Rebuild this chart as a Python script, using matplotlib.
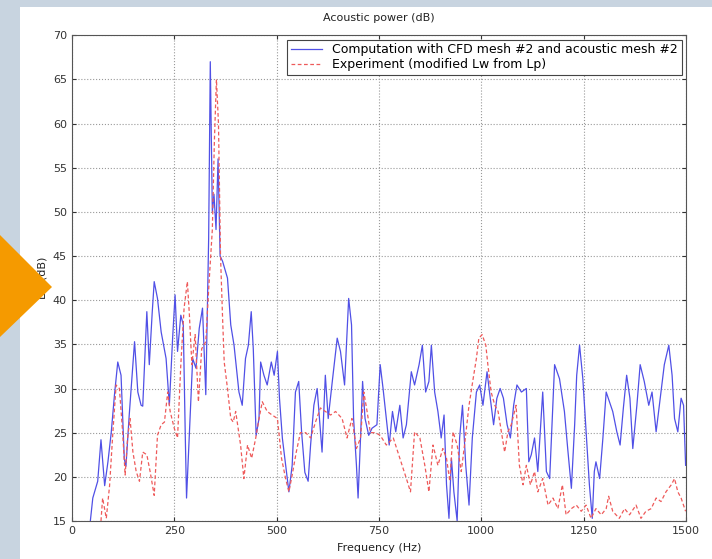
import matplotlib
matplotlib.use('Agg')
import matplotlib.pyplot as plt
from matplotlib.patches import Rectangle, Polygon

# Computation with CFD mesh #2 and acoustic mesh #2
freq_cfd = [45, 51, 63, 71, 80, 88, 96, 104, 112, 120, 128, 132, 140, 153, 161, 169, 173, 183, 189, 196,
            201, 209, 218, 230, 238, 246, 252, 258, 266, 272, 277, 280, 287, 295, 303, 311, 319, 327, 334, 338,
            343, 347, 352, 357, 362, 368, 380, 388, 396, 408, 416, 424, 431, 438, 443, 450, 457, 461, 469, 477,
            487, 494, 502, 507, 514, 522, 530, 538, 546, 554, 561, 569, 577, 583, 591, 599, 607, 611, 619, 626,
            636, 648, 656, 666, 676, 683, 688, 695, 699, 705, 710, 716, 725, 733, 745, 753, 760, 768, 775, 783,
            791, 801, 809, 817, 829, 837, 848, 856, 864, 872, 878, 886, 894, 902, 909, 915, 921, 927, 933, 941,
            947, 954, 962, 970, 978, 988, 996, 1004, 1014, 1020, 1030, 1038, 1046, 1054, 1063, 1071, 1079, 1087,
            1098, 1110, 1116, 1122, 1130, 1138, 1150, 1159, 1167, 1179, 1191, 1203, 1211, 1220, 1228, 1233, 1240,
            1248, 1256, 1264, 1271, 1276, 1280, 1289, 1297, 1305, 1313, 1321, 1331, 1339, 1347, 1355, 1363, 1370,
            1380, 1388, 1398, 1409, 1417, 1427, 1437, 1447, 1458, 1466, 1472, 1480, 1488, 1494, 1499]
level_cfd = [15, 17.6, 19.5, 24.2, 19, 21.7, 25, 29.3, 33, 31.5, 22, 21.2, 27, 35.3, 29.6, 28.1, 28, 38.7, 32.7, 38.5,
             42.1, 40.2, 36.4, 33.4, 28.1, 35.7, 40.6, 34.2, 38.3, 37.2, 24.4, 17.6, 25.1, 33.4, 32.3, 36.8, 39.1, 29.3, 47, 67,
             50, 52, 48, 56, 45, 44.4, 42.5, 37.2, 34.9, 29.6, 28.1, 33.4, 34.9, 38.7, 34.5, 24.7, 26.6, 33, 31.5, 30.4,
             33, 31.5, 34.2, 28.9, 24.4, 21.3, 18.3, 21.3, 29.6, 30.8, 25.1, 20.5, 19.5, 23.6, 28.1, 30, 25.1, 22.8, 31.5, 26.6,
             30.8, 35.7, 34.2, 30.4, 40.2, 37.2, 26.6, 21.3, 17.6, 24.4, 30.8, 26.6, 24.7, 25.5, 25.9, 32.7, 30, 26.6, 23.6, 27.4,
             25.1, 28.1, 24.4, 25.9, 31.9, 30.4, 32.7, 34.9, 29.6, 30.8, 34.9, 29.6, 27.4, 24.4, 27, 19.1, 15.3, 22.1, 18.3, 15,
             24.4, 28.1, 21.3, 16.8, 24.4, 29.6, 30.4, 28.1, 31.9, 29.6, 25.9, 28.9, 30, 28.9, 25.9, 24.4, 28.1, 30.4,
             29.6, 30, 21.7, 22.5, 24.4, 20.6, 29.6, 20.6, 19.8, 32.7, 31.1, 27.4, 23.2, 18.7, 25.9, 31.5, 34.9,
             31.1, 25.1, 19.1, 15.3, 20.6, 21.7, 19.8, 24.4, 29.6, 28.5, 27.4, 25.1, 23.6, 27.8, 31.5, 28.9, 23.2,
             28.1, 32.7, 30.8, 28.1, 29.6, 25.1, 28.9, 32.7, 34.9, 31.5, 26.6, 25.1, 28.9, 28.1, 21.3]

# Experiment (modified Lw from Lp)
freq_exp = [71, 75, 84, 92, 100, 108, 116, 124, 130, 136, 142, 149, 157, 165, 173, 183, 191, 201, 209, 218,
            226, 234, 240, 250, 258, 266, 274, 282, 287, 293, 301, 309, 317, 327, 335, 343, 348, 353, 358, 363,
            368, 372, 380, 388, 394, 400, 412, 420, 429, 439, 449, 457, 465, 477, 489, 502, 512, 522, 530, 538,
            548, 558, 571, 583, 595, 607, 619, 632, 644, 660, 672, 684, 695, 705, 713, 721, 729, 741, 753, 768,
            785, 801, 817, 827, 837, 850, 862, 872, 882, 894, 906, 915, 923, 931, 941, 951, 959, 970, 980, 988,
            994, 1002, 1011, 1016, 1024, 1033, 1041, 1049, 1057, 1065, 1073, 1085, 1093, 1102, 1110, 1120, 1130,
            1138, 1150, 1163, 1175, 1187, 1198, 1207, 1220, 1232, 1244, 1256, 1268, 1280, 1293, 1305, 1311, 1321,
            1337, 1350, 1362, 1378, 1390, 1402, 1415, 1427, 1439, 1451, 1464, 1472, 1480, 1488, 1499]
level_exp = [15, 17.6, 15.3, 19, 25, 30.4, 30, 25, 20.2, 24.4, 26.6, 22.8, 20.6, 19.5, 22.8, 22.5, 20.6, 17.9, 24.7, 25.9,
             26.2, 29.6, 27.4, 25.5, 24.4, 32.7, 39.1, 42.1, 38.3, 32.7, 36.1, 28.5, 34.5, 35.3, 42, 48, 58, 65, 60, 45,
             38, 33, 30, 26.6, 26.2, 27.4, 23.6, 19.8, 23.6, 22.1, 24.4, 26.6, 28.5, 27.4, 27, 26.6, 22.1, 19.8, 18.3, 20.2,
             22.8, 25, 25, 24.4, 26.2, 27.8, 27.4, 27, 27.4, 26.6, 24.4, 26.6, 23.2, 24.4, 29.6, 27.4, 25, 25, 24.7, 23.6,
             24.4, 22.1, 19.8, 18.3, 25.1, 24.4, 21.3, 18.3, 23.6, 21.3, 23.2, 22.1, 19.5, 25.1, 23.6, 20.6, 23.6, 28.1, 31.1, 33.4,
             35.7, 36.1, 34.9, 32.7, 29.6, 28.1, 27.4, 25.1, 22.8, 25.1, 25.9, 28.1, 21.3, 19.1, 21.3, 19.1, 20.6,
             18.3, 19.8, 16.8, 17.6, 16.4, 19.1, 15.7, 16.4, 16.8, 16.1, 16.8, 15.3, 16.4, 15.7, 16.4, 17.8, 16.1,
             15.3, 16.4, 15.7, 16.8, 15.3, 16.1, 16.4, 17.6, 17.2, 18.3, 19.1, 19.8, 18.3, 17.6, 16.1]

x_ticks = [0, 250, 500, 750, 1000, 1250, 1500]
y_ticks = [15, 20, 25, 30, 35, 40, 45, 50, 55, 60, 65, 70]

fig = plt.figure(figsize=(7.12, 5.59), dpi=100)
fig.patch.set_facecolor('#c8d4e0')

# white panel behind the chart
fig.patches.append(Rectangle((20 / 712, 0), 1 - 20 / 712, 1 - 7 / 559, transform=fig.transFigure,
                             facecolor='white', edgecolor='none', zorder=-5))

ax = fig.add_axes([0.101, 0.068, 0.8625, 0.869])
ax.plot(freq_cfd, level_cfd, color='#5050e6', linewidth=0.9,
        label='Computation with CFD mesh #2 and acoustic mesh #2')
ax.plot(freq_exp, level_exp, color='#ee5a5a', linewidth=0.9, linestyle=(0, (3, 2)),
        label='Experiment (modified Lw from Lp)')

ax.set_xlim(0, 1500)
ax.set_ylim(15, 70)
ax.set_xticks(x_ticks)
ax.set_yticks(y_ticks)
ax.tick_params(direction='in', length=3, labelsize=8, top=True, right=True, colors='#333333')
ax.grid(True, linestyle=':', color='#999999', linewidth=0.8)
for s in ax.spines.values():
    s.set_color('#555555')
    s.set_linewidth(0.8)

ax.set_title('Acoustic power (dB)', fontsize=8, pad=10, color='#222222')
ax.set_xlabel('Frequency (Hz)', fontsize=8, labelpad=5, color='#222222')
ax.set_ylabel('Lw (dB)', fontsize=8, labelpad=4, color='#222222')

leg = ax.legend(loc='upper right', fontsize=9, frameon=True, fancybox=False, framealpha=1,
                borderaxespad=0.35, handlelength=2.5, borderpad=0.3, labelspacing=0.15)
leg.get_frame().set_edgecolor('#444444')
leg.get_frame().set_linewidth(0.8)

# orange arrow on the left edge
fig.patches.append(Polygon([(0, 1 - 235 / 559), (52 / 712, 1 - 287 / 559), (0, 1 - 337 / 559)],
                           closed=True, transform=fig.transFigure, facecolor='#f59a00',
                           edgecolor='none', zorder=10))

fig.savefig('out.png', dpi=100, facecolor=fig.get_facecolor())
